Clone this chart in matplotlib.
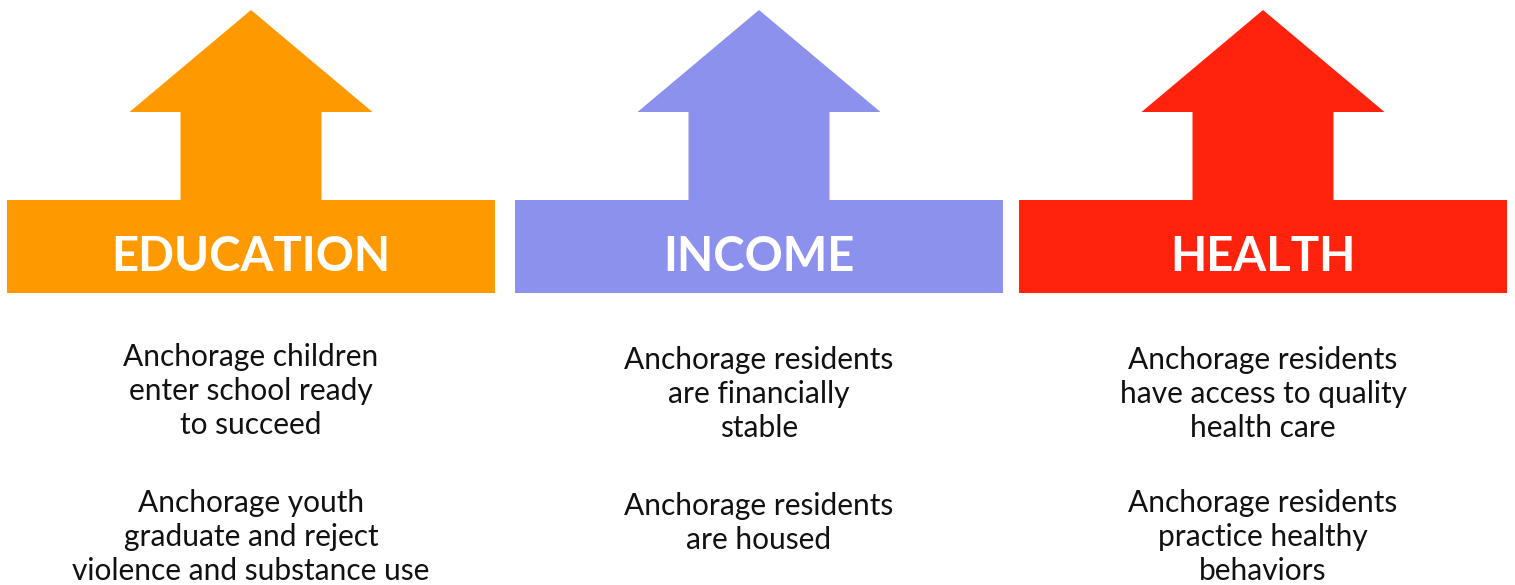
import matplotlib.pyplot as plt
from matplotlib.patches import Polygon

# --------------------------------------------------
# Content
# --------------------------------------------------
categories = ["EDUCATION", "INCOME", "HEALTH"]
colors = ["#FF9900", "#8C91EE", "#FF220D"]

goals_first = [
    ["Anchorage children", "enter school ready", "to succeed"],
    ["Anchorage residents", "are financially", "stable"],
    ["Anchorage residents", "have access to quality", "health care"],
]
goals_second = [
    ["Anchorage youth", "graduate and reject", "violence and substance use"],
    ["Anchorage residents", "are housed"],
    ["Anchorage residents", "practice healthy", "behaviors"],
]

# --------------------------------------------------
# Layout (pixels, y grows downward)
# --------------------------------------------------
W, H = 1515, 585
panel_left = [7, 515, 1019]
panel_w = 488
bar_top, bar_bot = 200, 293
stem_half = 70.5
head_half = 121.5
head_base, tip_y = 112, 10
first_base = [366, 369, 369]
second_base = [512, 515, 512]
line_step = 34

fig = plt.figure(figsize=(W / 100, H / 100), dpi=100)
ax = fig.add_axes([0, 0, 1, 1])
ax.set_xlim(0, W)
ax.set_ylim(H, 0)
ax.axis("off")

for i, cat in enumerate(categories):
    x0 = panel_left[i]
    cx = x0 + panel_w / 2
    shape = [
        (x0, bar_bot), (x0, bar_top),
        (cx - stem_half, bar_top), (cx - stem_half, head_base),
        (cx - head_half, head_base), (cx, tip_y),
        (cx + head_half, head_base), (cx + stem_half, head_base),
        (cx + stem_half, bar_top), (x0 + panel_w, bar_top),
        (x0 + panel_w, bar_bot),
    ]
    ax.add_patch(Polygon(shape, closed=True, facecolor=colors[i],
                         edgecolor="none"))
    ax.text(cx, 271, cat, ha="center", va="baseline", color="white",
            fontsize=34, fontweight="bold", family="Lato")

    for j, line in enumerate(goals_first[i]):
        ax.text(cx, first_base[i] + j * line_step, line, ha="center",
                va="baseline", fontsize=21.5, family="Lato", color="#111111")
    for j, line in enumerate(goals_second[i]):
        ax.text(cx, second_base[i] + j * line_step, line, ha="center",
                va="baseline", fontsize=21.5, family="Lato", color="#111111")

fig.savefig("out.png", dpi=100)
